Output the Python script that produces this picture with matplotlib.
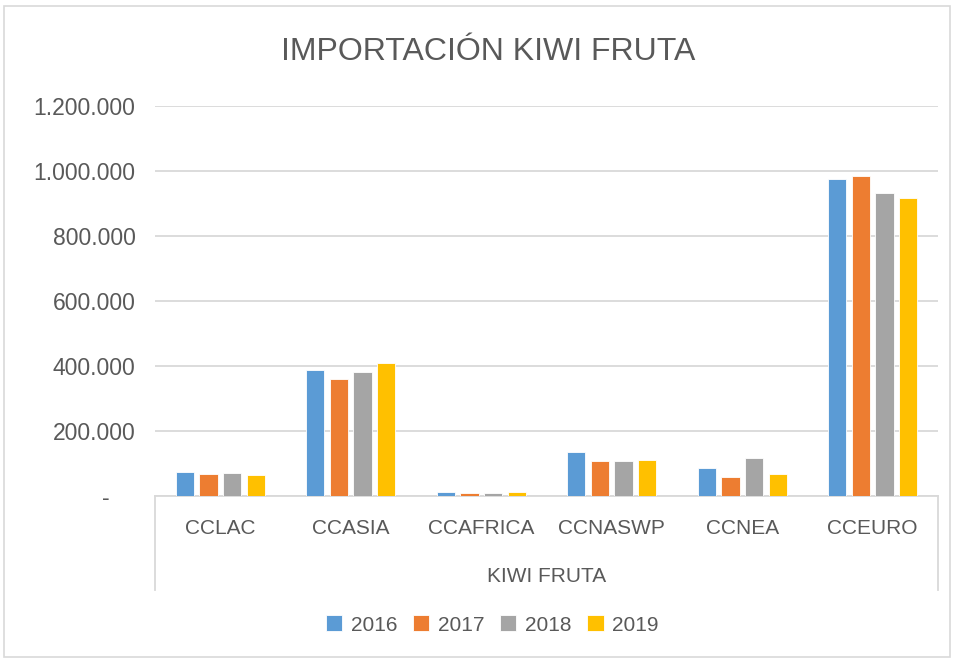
import numpy as np
import matplotlib.pyplot as plt
from matplotlib.ticker import FuncFormatter
from matplotlib.patches import Rectangle
from matplotlib.lines import Line2D

plt.rcParams['font.family'] = ['Liberation Sans', 'DejaVu Sans']

# datos
regiones = ["CCLAC", "CCASIA", "CCAFRICA", "CCNASWP", "CCNEA", "CCEURO"]
anios = ["2016", "2017", "2018", "2019"]
v2016 = [73000, 389000, 11000, 135000, 86000, 974000]
v2017 = [69000, 361000, 10000, 107000, 60000, 985000]
v2018 = [71000, 383000, 10000, 109000, 117000, 933000]
v2019 = [65000, 410000, 12000, 111000, 67000, 918000]
grupo = "KIWI FRUTA"
titulo = "IMPORTACIÓN KIWI FRUTA"

colores = ["#5B9BD5", "#ED7D31", "#A5A5A5", "#FFC000"]
gris = "#595959"

W, H = 955, 659
fig = plt.figure(figsize=(W / 100, H / 100), dpi=100)
ax = fig.add_axes([155 / W, (H - 496) / H, (938 - 155) / W, (496 - 106) / H])

x = np.arange(len(regiones))
ancho = 0.14
paso = 0.181
series = [v2016, v2017, v2018, v2019]
for i, (vals, c) in enumerate(zip(series, colores)):
    ax.bar(x + (i - 1.5) * paso, vals, width=ancho, color=c, edgecolor="white",
           linewidth=0.6, label=anios[i], zorder=3)

ax.set_xlim(-0.5, len(regiones) - 0.5)
ax.set_ylim(0, 1200000)
ax.set_yticks(np.arange(0, 1200001, 200000))


def fmt(v, pos):
    # formato contable: el cero se muestra como guion
    if v == 0:
        return "-    "
    return f"{int(v):,}".replace(",", ".")


ax.yaxis.set_major_formatter(FuncFormatter(fmt))
ax.grid(axis="y", color="#D9D9D9", linewidth=1.3, zorder=0)
ax.set_axisbelow(True)
for s in ["top", "right", "left"]:
    ax.spines[s].set_visible(False)
ax.spines["bottom"].set_color("#D9D9D9")
ax.spines["bottom"].set_linewidth(1.3)
ax.tick_params(axis="y", length=0, pad=14, labelsize=16.5, labelcolor=gris)
ax.tick_params(axis="x", length=0, labelbottom=False)

# etiquetas de categoria (dos niveles)
for xi, r in zip(x, regiones):
    ax.annotate(r, xy=(xi, 0), xycoords=("data", "axes fraction"),
                xytext=(0, -33), textcoords="offset pixels",
                ha="center", va="center", fontsize=15, color=gris)
ax.annotate(grupo, xy=(0.5, 0), xycoords="axes fraction",
            xytext=(0, -81), textcoords="offset pixels",
            ha="center", va="center", fontsize=15, color=gris)
for fx in [155 / W, 938 / W]:
    fig.add_artist(Line2D([fx, fx], [(H - 496) / H, (H - 590) / H],
                          color="#D9D9D9", linewidth=1.3))

fig.text(488 / W, (H - 52) / H, titulo, ha="center", va="center",
         fontsize=23, color=gris)

leg = fig.legend(loc="center", bbox_to_anchor=(492 / W, (H - 625) / H), ncol=4,
                 frameon=False, fontsize=15, handlelength=0.8, handleheight=0.8,
                 handletextpad=0.4, columnspacing=0.75)
for t in leg.get_texts():
    t.set_color(gris)

# borde del grafico
fig.add_artist(Rectangle((4 / W, 2 / H), 946 / W, 651 / H, fill=False,
                         edgecolor="#D9D9D9", linewidth=1.2,
                         transform=fig.transFigure))

fig.savefig("out.png", dpi=100, facecolor="white")
